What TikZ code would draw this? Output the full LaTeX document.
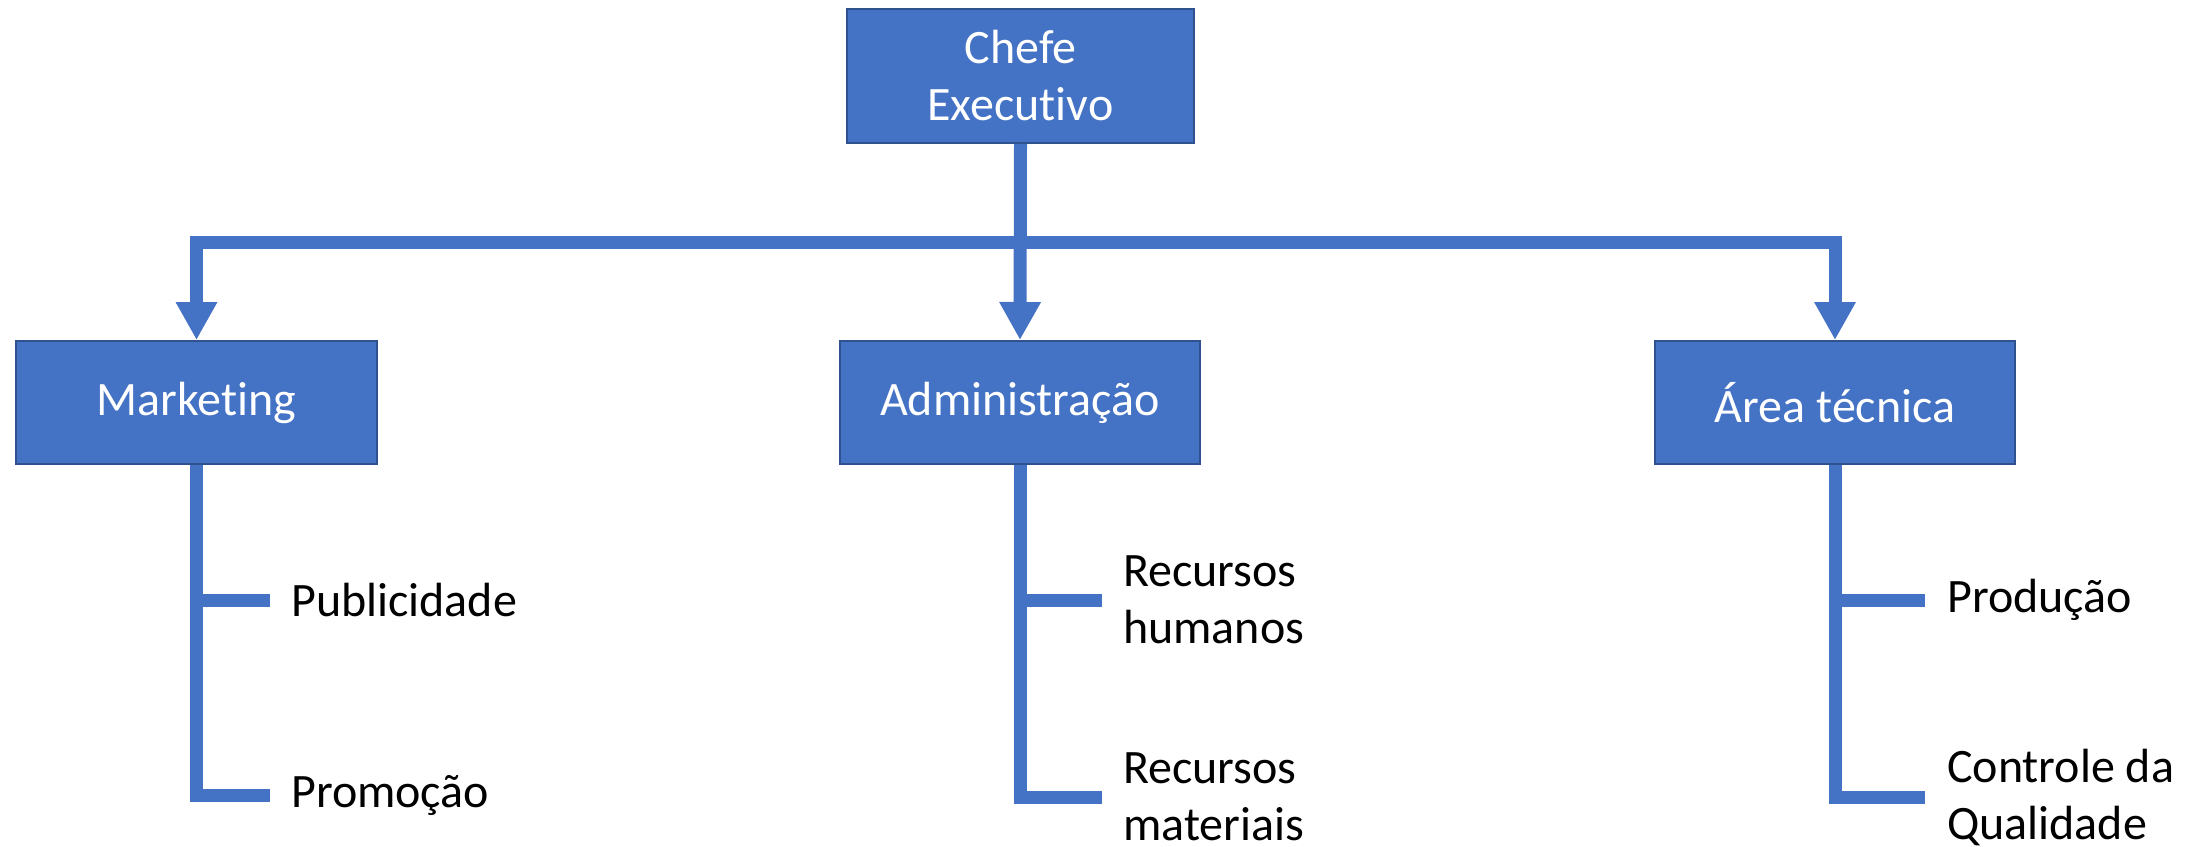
\documentclass[tikz,border=0pt]{standalone}
\usepackage{fontspec}
\setmainfont{Carlito}[Ligatures=NoCommon]
\usetikzlibrary{arrows.meta}
\definecolor{boxblue}{HTML}{4472C4}
\definecolor{edgeblue}{HTML}{2F528F}
\begin{document}
\begin{tikzpicture}[x=1pt,y=-1pt,
  unitbox/.style={draw=edgeblue,line width=2pt,fill=boxblue,text=white,
    minimum height=123pt,align=center,inner sep=0pt,
    font=\fontsize{48}{57}\selectfont},
  leaf/.style={anchor=west,inner sep=0pt,align=left,text=black,
    font=\fontsize{48}{57}\selectfont},
  conn/.style={draw=boxblue,line width=13pt,line join=miter},
  arr/.style={-{Triangle[width=39pt,length=38pt]}}]
\useasboundingbox (0,0) rectangle (2195,846);
% boxes
\node[unitbox,minimum width=347pt,minimum height=134pt] (ceo) at (1020.5,76) {Chefe\\Executivo};
\node[unitbox,minimum width=361pt] (mkt) at (196.5,402.5) {Marketing};
\node[unitbox,minimum width=360pt] (adm) at (1020,402.5) {Administração};
\node[unitbox,minimum width=360pt] (tec) at (1835,402.5) {Área técnica};
% bus
\coordinate (bus) at (1020.5,242);
\draw[conn,arr] (ceo.south) -- (adm.north);
\draw[conn,arr] (bus) -| (mkt.north);
\draw[conn,arr] (bus) -| (tec.north);
% leaves
\node[leaf] (pub) at (291,600) {Publicidade};
\node[leaf] (pro) at (291,795) {Promoção};
\node[leaf] (rh) at (1123,600) {Recursos\\humanos};
\node[leaf] (rm) at (1123,797) {Recursos\\materiais};
\node[leaf] (prd) at (1947,600) {Produção};
\node[leaf] (cq) at (1947,797) {Controle da\\Qualidade};
% tick ends
\coordinate (pubE) at (270,600);
\coordinate (proE) at (270,795);
\coordinate (rhE) at (1102,600);
\coordinate (rmE) at (1102,797);
\coordinate (prdE) at (1925,600);
\coordinate (cqE) at (1925,797);
% branches
\draw[conn] (mkt.south) |- (proE);
\draw[conn] (mkt.south |- pubE) -- (pubE);
\draw[conn] (adm.south) |- (rmE);
\draw[conn] (adm.south |- rhE) -- (rhE);
\draw[conn] (tec.south) |- (cqE);
\draw[conn] (tec.south |- prdE) -- (prdE);
\end{tikzpicture}
\end{document}
